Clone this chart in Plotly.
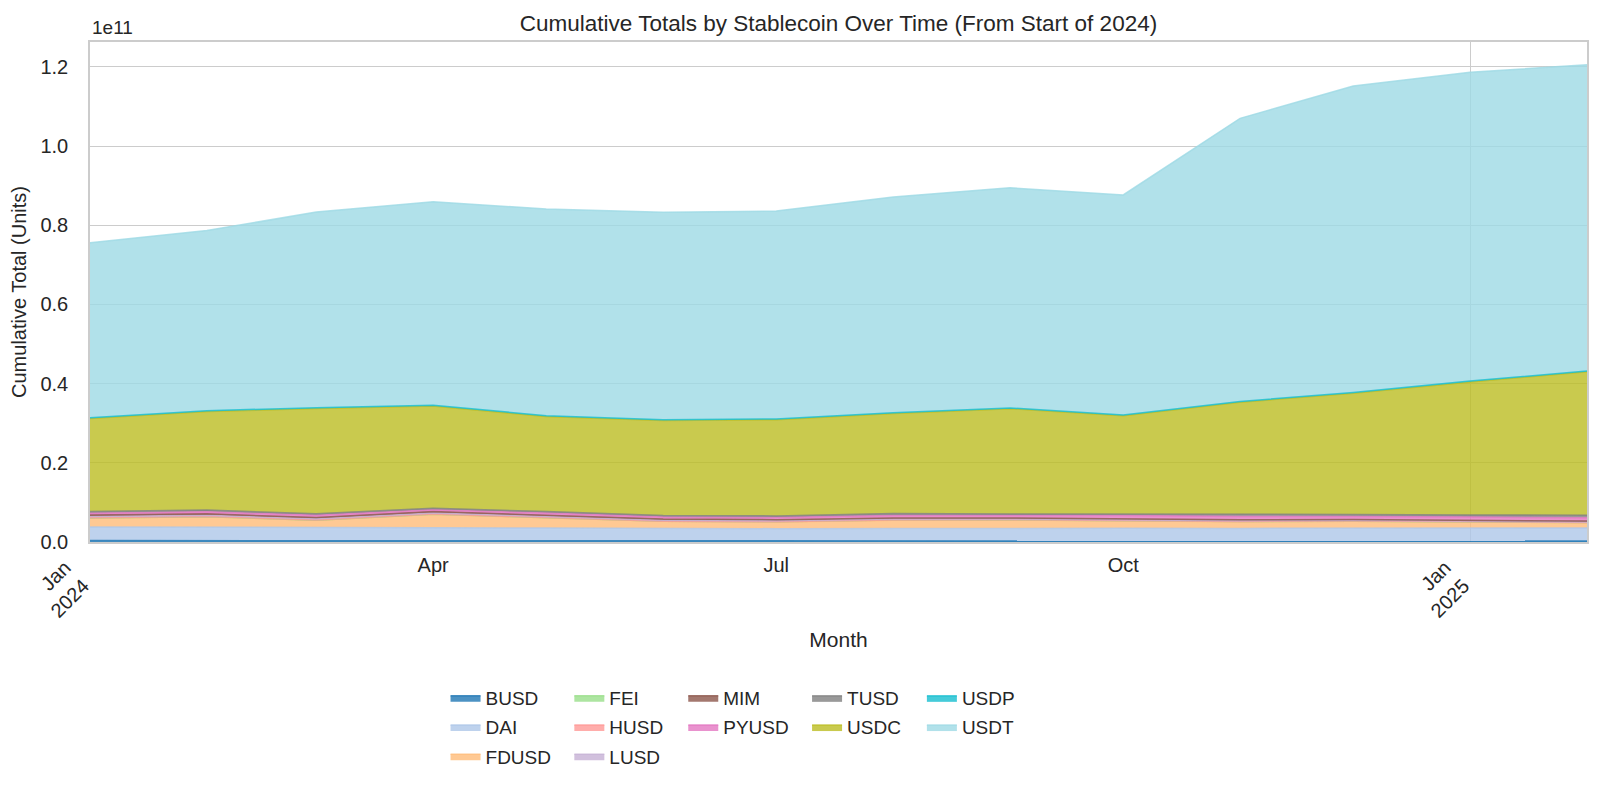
import numpy as np
import plotly.graph_objects as go

# Data (monthly cumulative totals, in billions of units) ----------------------
months = [
    "2024-01-01", "2024-02-01", "2024-03-01", "2024-04-01", "2024-05-01",
    "2024-06-01", "2024-07-01", "2024-08-01", "2024-09-01", "2024-10-01",
    "2024-11-01", "2024-12-01", "2025-01-01", "2025-02-01",
]

busd  = [0.35, 0.33, 0.30, 0.30, 0.28, 0.27, 0.27, 0.26, 0.25, 0.25, 0.24, 0.24, 0.23, 0.23]
dai   = [3.45, 3.45, 3.30, 3.30, 3.25, 3.15, 3.10, 3.15, 3.10, 3.20, 3.20, 3.25, 3.25, 3.30]
fdusd = [2.25, 2.60, 1.90, 3.40, 2.60, 1.80, 1.70, 2.10, 2.20, 1.85, 1.70, 1.75, 1.60, 1.35]
fei   = [0.02, 0.02, 0.02, 0.02, 0.02, 0.02, 0.02, 0.02, 0.02, 0.02, 0.02, 0.02, 0.02, 0.02]
husd  = [0.03, 0.03, 0.03, 0.03, 0.03, 0.03, 0.03, 0.03, 0.03, 0.03, 0.03, 0.03, 0.03, 0.03]
lusd  = [0.35, 0.33, 0.30, 0.30, 0.28, 0.25, 0.25, 0.24, 0.22, 0.22, 0.20, 0.18, 0.16, 0.15]
mim   = [0.35, 0.35, 0.33, 0.33, 0.30, 0.28, 0.27, 0.27, 0.25, 0.25, 0.22, 0.20, 0.20, 0.20]
pyusd = [0.45, 0.50, 0.55, 0.45, 0.55, 0.50, 0.55, 0.65, 0.60, 0.85, 0.85, 0.80, 0.80, 0.85]
tusd  = [0.45, 0.45, 0.40, 0.40, 0.40, 0.40, 0.40, 0.45, 0.40, 0.40, 0.45, 0.50, 0.55, 0.65]
usdc  = [23.5, 24.9, 26.6, 25.8, 24.0, 24.0, 24.3, 25.3, 26.6, 24.8, 28.4, 30.6, 33.6, 36.2]
usdp  = [0.20, 0.20, 0.20, 0.20, 0.20, 0.20, 0.20, 0.20, 0.20, 0.20, 0.20, 0.20, 0.20, 0.20]
usdt  = [44.2, 45.5, 49.4, 51.4, 52.2, 52.4, 52.5, 54.5, 55.6, 55.6, 71.5, 77.4, 78.0, 77.4]

coin_names = ["BUSD", "DAI", "FDUSD", "FEI", "HUSD", "LUSD",
              "MIM", "PYUSD", "TUSD", "USDC", "USDP", "USDT"]
coin_series = [busd, dai, fdusd, fei, husd, lusd, mim, pyusd, tusd, usdc, usdp, usdt]

y_tick_labels = ["0.0", "0.2", "0.4", "0.6", "0.8", "1.0", "1.2"]
minor_tick_dates = ["2024-04-01", "2024-07-01", "2024-10-01"]
minor_tick_labels = ["Apr", "Jul", "Oct"]
major_tick_dates = ["2024-01-01", "2025-01-01"]
major_tick_labels = ["Jan<br>2024", "Jan<br>2025"]

# Settings ======================================================================
# tab20 sampled at 12 points
colours = [
    (31, 119, 180), (174, 199, 232), (255, 187, 120), (152, 223, 138),
    (255, 152, 150), (197, 176, 213), (140, 86, 75), (227, 119, 194),
    (127, 127, 127), (188, 189, 34), (23, 190, 207), (158, 218, 229),
]
alpha = 0.8
font_family = "Liberation Sans, Arial, sans-serif"
text_colour = "#262626"
grid_colour = "#cccccc"

# the page body has an 8px margin, so the figure is drawn 8px smaller than the window
fig_width, fig_height = 1584, 771

# legend columns, filled column-major like matplotlib ncol=5
legend_columns = [["BUSD", "DAI", "FDUSD"], ["FEI", "HUSD", "LUSD"],
                  ["MIM", "PYUSD"], ["TUSD", "USDC"], ["USDP", "USDT"]]
legend_x = [0.2375, 0.3202, 0.3963, 0.4790, 0.5557]
legend_keys = ["legend", "legend2", "legend3", "legend4", "legend5"]
legend_of = {name: legend_keys[i] for i, col in enumerate(legend_columns) for name in col}

# Figure ------------------------------------------------------------------------
fig = go.Figure()

for name, values, (r, g, b) in zip(coin_names, coin_series, colours):
    rgba = f"rgba({r},{g},{b},{alpha})"
    fig.add_trace(go.Scatter(
        x=months, y=np.array(values) * 1e9,
        name=name, stackgroup="one", mode="lines",
        line=dict(color=rgba, width=1.5),
        fillcolor=rgba,
        legend=legend_of[name], legendgroup=name,
    ))

# empty trace so the year-tick axis (x2) gets drawn
fig.add_trace(go.Scatter(
    x=major_tick_dates, y=[None, None], xaxis="x2", yaxis="y",
    mode="lines", showlegend=False, hoverinfo="skip",
))

axis_font = dict(family=font_family, size=20, color=text_colour)

fig.update_layout(
    width=fig_width, height=fig_height, autosize=False,
    margin=dict(l=82, r=3, t=34, b=235),
    plot_bgcolor="white", paper_bgcolor="white",
    font=dict(family=font_family, color=text_colour),
    title=dict(
        text="Cumulative Totals by Stablecoin Over Time (From Start of 2024)",
        x=0.5, xref="paper", xanchor="center",
        y=1 - 15.5 / fig_height, yref="container", yanchor="middle",
        font=dict(family=font_family, size=22.5, color=text_colour),
    ),
    xaxis=dict(
        type="date", range=[months[0], months[-1]],
        tickvals=minor_tick_dates, ticktext=minor_tick_labels, tickangle=0,
        ticks="", tickfont=axis_font, ticklabelstandoff=4,
        showgrid=False, zeroline=False,
        showline=True, mirror=True, linecolor=grid_colour, linewidth=1.5,
        title=dict(text="Month", font=dict(family=font_family, size=21, color=text_colour),
                   standoff=58),
    ),
    xaxis2=dict(
        type="date", range=[months[0], months[-1]],
        overlaying="x", anchor="y", side="bottom",
        tickvals=major_tick_dates, ticktext=major_tick_labels, tickangle=-45,
        ticks="", tickfont=axis_font, ticklabelstandoff=9, ticklabelshift=-25,
        showgrid=True, gridcolor=grid_colour, gridwidth=1,
        zeroline=False, showline=False,
    ),
    yaxis=dict(
        range=[0, 1.263e11],
        tickvals=[float(t) * 1e11 for t in y_tick_labels], ticktext=y_tick_labels,
        ticks="", tickfont=axis_font, ticklabelstandoff=16,
        showgrid=True, gridcolor=grid_colour, gridwidth=1, zeroline=False,
        showline=True, mirror=True, linecolor=grid_colour, linewidth=1.5,
        title=dict(text="Cumulative Total (Units)",
                   font=dict(family=font_family, size=20, color=text_colour),
                   standoff=14),
    ),
    hovermode="x unified",
)

# offset label like matplotlib's scientific notation
fig.add_annotation(
    text="1e11", xref="paper", yref="paper", x=0, y=1,
    xanchor="left", yanchor="bottom", yshift=2, showarrow=False,
    font=dict(family=font_family, size=19, color=text_colour),
)

# Legends (one per column) ------------------------------------------------------
for key, x in zip(legend_keys, legend_x):
    fig.update_layout({key: dict(
        orientation="v", x=x, y=-0.274, xanchor="left", yanchor="top",
        xref="paper", yref="paper",
        bgcolor="rgba(0,0,0,0)", itemwidth=30, tracegroupgap=1.5,
        font=dict(family=font_family, size=19, color=text_colour),
    )})

fig.write_html("out.html")
